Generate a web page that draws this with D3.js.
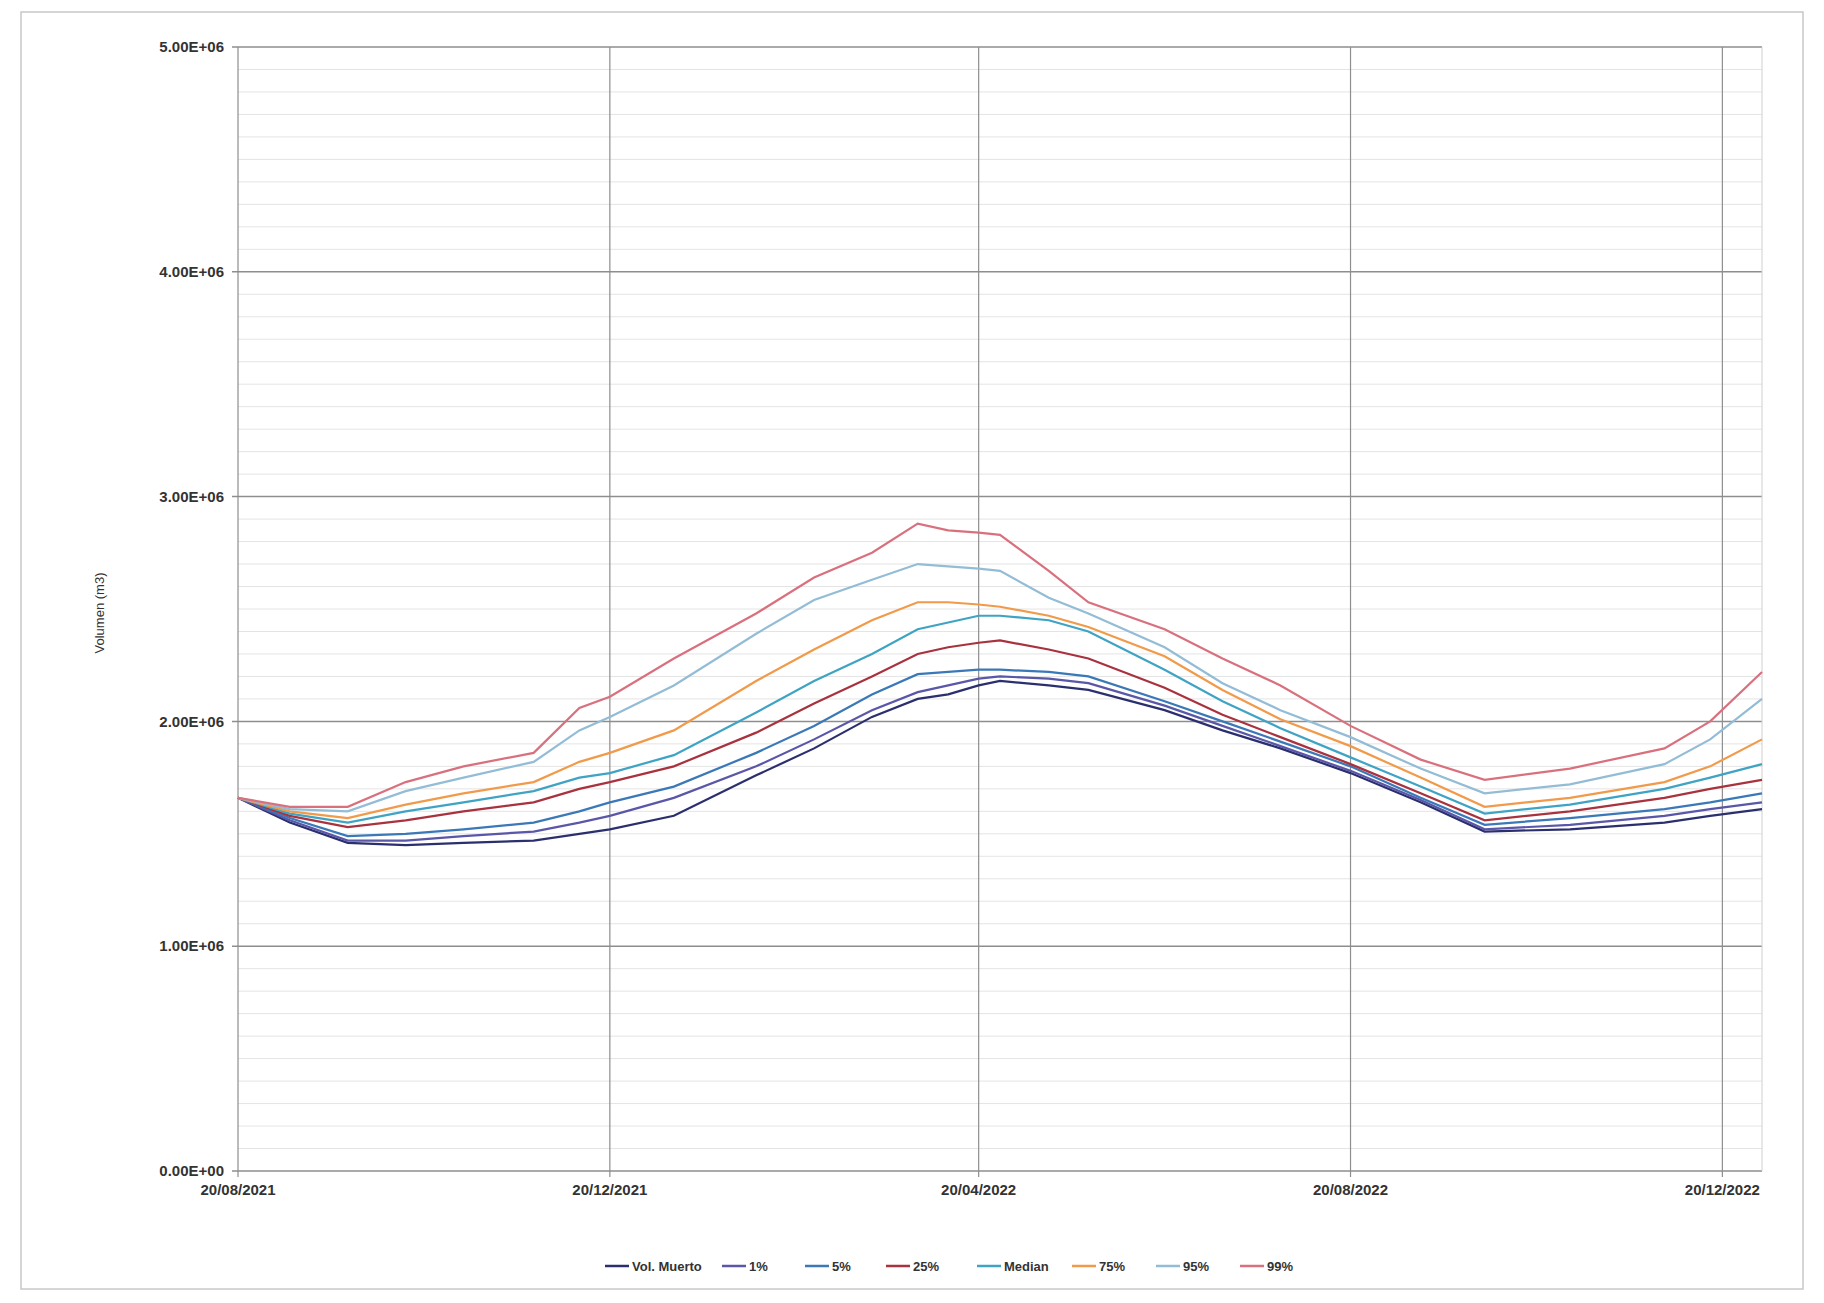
<!DOCTYPE html>
<html>
<head>
<meta charset="utf-8">
<script src="https://cdn.jsdelivr.net/npm/d3@7"></script>
<style>
  body { margin: 0; background: #fff; }
  svg { font-family: "Liberation Sans", Arial, sans-serif; }
</style>
</head>
<body>
<script>
// sample dates
const dates = ["2021-08-20","2021-09-06","2021-09-25","2021-10-14","2021-11-02","2021-11-25",
  "2021-12-10","2021-12-20","2022-01-10","2022-02-06","2022-02-25","2022-03-16","2022-03-31",
  "2022-04-10","2022-04-20","2022-04-27","2022-05-13","2022-05-26","2022-06-20","2022-07-09",
  "2022-07-28","2022-08-20","2022-09-12","2022-10-03","2022-10-31","2022-12-01","2022-12-16","2023-01-02"];

// values in millions of m3
const volMuerto = [1.66,1.55,1.46,1.45,1.46,1.47,1.50,1.52,1.58,1.76,1.88,2.02,2.10,2.12,2.16,2.18,2.16,2.14,2.05,1.96,1.88,1.77,1.64,1.51,1.52,1.55,1.58,1.61];
const p1   = [1.66,1.56,1.47,1.47,1.49,1.51,1.55,1.58,1.66,1.80,1.92,2.05,2.13,2.16,2.19,2.20,2.19,2.17,2.07,1.98,1.89,1.78,1.65,1.52,1.54,1.58,1.61,1.64];
const p5   = [1.66,1.57,1.49,1.50,1.52,1.55,1.60,1.64,1.71,1.86,1.98,2.12,2.21,2.22,2.23,2.23,2.22,2.20,2.09,2.00,1.91,1.80,1.66,1.54,1.57,1.61,1.64,1.68];
const p25  = [1.66,1.58,1.53,1.56,1.60,1.64,1.70,1.73,1.80,1.95,2.08,2.20,2.30,2.33,2.35,2.36,2.32,2.28,2.15,2.03,1.93,1.81,1.68,1.56,1.60,1.66,1.70,1.74];
const median = [1.66,1.59,1.55,1.60,1.64,1.69,1.75,1.77,1.85,2.04,2.18,2.30,2.41,2.44,2.47,2.47,2.45,2.40,2.23,2.09,1.97,1.84,1.71,1.59,1.63,1.70,1.75,1.81];
const p75  = [1.66,1.60,1.57,1.63,1.68,1.73,1.82,1.86,1.96,2.18,2.32,2.45,2.53,2.53,2.52,2.51,2.47,2.42,2.29,2.14,2.01,1.89,1.75,1.62,1.66,1.73,1.80,1.92];
const p95  = [1.66,1.61,1.60,1.69,1.75,1.82,1.96,2.02,2.16,2.39,2.54,2.63,2.70,2.69,2.68,2.67,2.55,2.48,2.33,2.17,2.05,1.93,1.79,1.68,1.72,1.81,1.92,2.10];
const p99  = [1.66,1.62,1.62,1.73,1.80,1.86,2.06,2.11,2.28,2.48,2.64,2.75,2.88,2.85,2.84,2.83,2.67,2.53,2.41,2.28,2.16,1.98,1.83,1.74,1.79,1.88,2.00,2.22];

const seriesNames = ["Vol. Muerto","1%","5%","25%","Median","75%","95%","99%"];
const seriesColors = ["#2b2f6e","#5a56a8","#3a78b8","#a8323e","#3fa3c4","#f09a4a","#93bcd6","#d9707e"];
const seriesValues = [volMuerto,p1,p5,p25,median,p75,p95,p99];

const xTickDates = ["2021-08-20","2021-12-20","2022-04-20","2022-08-20","2022-12-20"];
const xTickLabels = ["20/08/2021","20/12/2021","20/04/2022","20/08/2022","20/12/2022"];
const yTicks = [0,1e6,2e6,3e6,4e6,5e6];
const yTickLabels = ["0.00E+00","1.00E+06","2.00E+06","3.00E+06","4.00E+06","5.00E+06"];

const W = 1824, H = 1303;
const margin = {top: 47, right: 62, bottom: 132, left: 238};
const width = W - margin.left - margin.right,
      height = H - margin.top - margin.bottom;

const parse = d3.timeParse("%Y-%m-%d");

const svg = d3.select("body").append("svg")
    .attr("width", W)
    .attr("height", H);

// outer chart border
svg.append("rect")
  .attr("x", 21).attr("y", 12)
  .attr("width", 1782).attr("height", 1277)
  .attr("fill", "none")
  .attr("stroke", "#c8c8c8")
  .attr("stroke-width", 1.5);

const g = svg.append("g")
  .attr("transform", "translate(" + margin.left + "," + margin.top + ")");

const x = d3.scaleTime()
  .domain([parse(dates[0]), parse(dates[dates.length - 1])])
  .range([0, width]);

const y = d3.scaleLinear()
  .domain([0, 5e6])
  .range([height, 0]);

// minor horizontal gridlines
const minor = d3.range(0, 5e6 + 1, 1e5).filter(v => v % 1e6 !== 0);
g.selectAll(".minor")
  .data(minor)
  .enter().append("line")
  .attr("x1", 0).attr("x2", width)
  .attr("y1", d => y(d)).attr("y2", d => y(d))
  .attr("stroke", "#e4e4e4")
  .attr("stroke-width", 1);

// major horizontal gridlines
g.selectAll(".major")
  .data(yTicks)
  .enter().append("line")
  .attr("x1", -6).attr("x2", width)
  .attr("y1", d => y(d)).attr("y2", d => y(d))
  .attr("stroke", "#8e8e8e")
  .attr("stroke-width", 1.5);

// vertical gridlines
g.selectAll(".vgrid")
  .data(xTickDates)
  .enter().append("line")
  .attr("x1", d => x(parse(d))).attr("x2", d => x(parse(d)))
  .attr("y1", 0).attr("y2", height + 6)
  .attr("stroke", "#8e8e8e")
  .attr("stroke-width", 1.2);

// plot right edge
g.append("line")
  .attr("x1", width).attr("x2", width)
  .attr("y1", 0).attr("y2", height)
  .attr("stroke", "#d0d0d0");

// y tick labels
g.selectAll(".ylab")
  .data(yTicks)
  .enter().append("text")
  .attr("x", -14)
  .attr("y", (d) => y(d))
  .attr("dy", "0.35em")
  .attr("text-anchor", "end")
  .attr("font-size", 15)
  .attr("font-weight", "bold")
  .attr("fill", "#333")
  .text((d, i) => yTickLabels[i]);

// x tick labels
g.selectAll(".xlab")
  .data(xTickDates)
  .enter().append("text")
  .attr("x", d => x(parse(d)))
  .attr("y", height + 24)
  .attr("text-anchor", "middle")
  .attr("font-size", 15)
  .attr("font-weight", "bold")
  .attr("fill", "#333")
  .text((d, i) => xTickLabels[i]);

// y axis title
svg.append("text")
  .attr("transform", "translate(104," + (margin.top + height / 2 + 4) + ") rotate(-90)")
  .attr("text-anchor", "middle")
  .attr("font-size", 13)
  .attr("fill", "#333")
  .text("Volumen (m3)");

// series lines
const line = d3.line()
  .x((d, i) => x(parse(dates[i])))
  .y(d => y(d * 1e6));

g.selectAll(".series")
  .data(seriesValues)
  .enter().append("path")
  .attr("d", d => line(d))
  .attr("fill", "none")
  .attr("stroke", (d, i) => seriesColors[i])
  .attr("stroke-width", 2.2);

// legend
const legendX = [605, 722, 805, 886, 977, 1072, 1156, 1240];
const legend = svg.selectAll(".legend")
  .data(seriesNames)
  .enter().append("g")
  .attr("transform", (d, i) => "translate(" + legendX[i] + ",1266)");

legend.append("line")
  .attr("x1", 0).attr("x2", 24)
  .attr("stroke", (d, i) => seriesColors[i])
  .attr("stroke-width", 2.5);

legend.append("text")
  .attr("x", 27)
  .attr("dy", "0.35em")
  .attr("font-size", 13)
  .attr("font-weight", "bold")
  .attr("fill", "#333")
  .text(d => d);
</script>
</body>
</html>
